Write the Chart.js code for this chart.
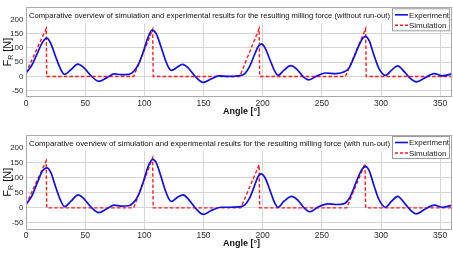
<!DOCTYPE html>
<html><head><meta charset="utf-8">
<script src="https://cdn.jsdelivr.net/npm/chart.js@4/dist/chart.umd.min.js"></script>
<style>
html,body{margin:0;padding:0;background:#fff;width:453px;height:253px;overflow:hidden}
canvas{position:absolute;left:0}
#c1{top:0}
#c2{top:125px}
</style></head><body>
<canvas id="c1" width="453" height="125"></canvas>
<canvas id="c2" width="453" height="128"></canvas>
<script>
// ---- data ----
const angleTicks = [0, 50, 100, 150, 200, 250, 300, 350];
const forceTicks = [-50, 0, 50, 100, 150, 200];

const titleTop = "Comparative overview of simulation and experimental results for the resulting milling force (without run-out)";
const titleBottom = "Comparative overview of simulation and experimental results for the resulting milling force (with run-out)";
const legendLabels = ["Experiment", "Simulation"];

const expTopAngle = [0,5,10,14,17.7,21,25,29,32.6,38,43.8,49,55,61.5,68,74.7,80,86.8,91,95,99,103,106.5,110,114,118,121,123,128,132.3,137,143,150,156,163,171,179,185,189,193,196,199,202,206,210,213,218,223.6,229,234,239,246,253,262,269,273,277,281,284,286.8,290,294,298,303.7,309,314,320,325,330,337,345,352,360];
const expTopForce = [12,40,85,120,134,115,70,28,7,24,43,30,2,-17,-5,9,6,7,18,42,85,135,162,150,105,55,28,21,33,42,30,0,-21,-10,2,0,2,10,35,75,103,114,100,60,20,4,22,38,25,0,-12,2,12,10,16,30,65,105,130,140,125,75,30,4,22,37,15,-8,-19,-5,10,2,9];

const expBotAngle = [0,5,10,14,17.7,21,25,29,32.6,38,44,49,55,61.5,68,74.7,80,86.8,91,95,99,103,107,110,114,118,121,123,128,132.8,137,143,150,156,165,172,179,185,189,193,196,198.6,202,206,210,213,218,224.5,230,235,240,247,255,262,269,273,277,281,284,286.8,290,294,298,303.7,309,314,320,325,330,337,345,352,360];
const expBotForce = [11,40,88,123,133,117,70,27,4,22,43,30,2,-16,-4,9,6,7,18,42,85,135,161,150,105,55,28,21,35,43,30,0,-22,-10,2,2,3,10,33,72,103,113,100,60,18,2,22,38,24,0,-13,3,13,11,14,30,65,105,128,138,124,75,30,2,22,38,15,-8,-20,-5,9,2,8];

const simTopAngle = [0,17.1,17.5,91,107,107.5,180.6,197,197.5,270,287,287.5,360];
const simTopForce = [12,168,0,0,164,0,0,167,0,0,167,0,0];

const simBotAngle = [0,17.1,17.5,91,107,107.5,181.5,197,197.5,271,286.5,287,360];
const simBotForce = [11,156,0,0,166,0,0,143,0,0,147,0,0];

// ---- helpers ----
const pts = (a, f) => a.map((x, i) => ({x: x, y: f[i]}));
const FONT = '"Liberation Sans", Arial, sans-serif';
const BLUE = '#1010e0', RED = '#ff1a1a';

const deco = {
  id: 'deco',
  afterDatasetsDraw(chart, args, o) {
    const {ctx, chartArea: a} = chart;
    ctx.save();
    // plot box
    ctx.strokeStyle = '#a8a8a8'; ctx.lineWidth = 1;
    ctx.strokeRect(Math.round(a.left) + 0.5, Math.round(a.top) + 0.5,
                   Math.round(a.right - a.left) - 1, Math.round(a.bottom - a.top) - 1);
    // title box
    ctx.fillStyle = '#fff';
    ctx.fillRect(a.left + 1, a.top + 1, 364, 15);
    ctx.fillStyle = '#111';
    ctx.font = '8px ' + FONT;
    ctx.textBaseline = 'middle'; ctx.textAlign = 'left';
    ctx.fillText(o.title, a.left + 3, a.top + 8.5, 361);
    // legend
    const lx = 392.5, ly = a.top + 1.5, lw = 57, lh = 22;
    ctx.fillStyle = '#fff'; ctx.fillRect(lx, ly, lw, lh);
    ctx.strokeStyle = '#9a9a9a'; ctx.strokeRect(lx, ly, lw, lh);
    ctx.lineWidth = 1.6;
    ctx.strokeStyle = BLUE; ctx.setLineDash([]);
    ctx.beginPath(); ctx.moveTo(lx + 2.5, ly + 6); ctx.lineTo(lx + 15.5, ly + 6); ctx.stroke();
    ctx.strokeStyle = RED; ctx.setLineDash([3, 2]);
    ctx.beginPath(); ctx.moveTo(lx + 2.5, ly + 16.5); ctx.lineTo(lx + 15.5, ly + 16.5); ctx.stroke();
    ctx.setLineDash([]);
    ctx.fillStyle = '#222'; ctx.font = '8px ' + FONT;
    ctx.fillText(o.legend[0], lx + 16.5, ly + 6.5, 40);
    ctx.fillText(o.legend[1], lx + 16.5, ly + 17, 40);
    // x title
    ctx.fillStyle = '#111'; ctx.font = 'bold 9px ' + FONT;
    ctx.textAlign = 'left';
    ctx.fillText('Angle [\u00B0]', 223, a.bottom + o.xTitleDy);
    // y title with subscript
    ctx.translate(6.5, (a.top + a.bottom) / 2);
    ctx.rotate(-Math.PI / 2);
    ctx.font = '11px ' + FONT;
    const wF = ctx.measureText('F').width;
    ctx.font = '7px ' + FONT;
    const wR = ctx.measureText('R').width;
    ctx.font = '11px ' + FONT;
    const wN = ctx.measureText(' [N]').width;
    let x0 = -(wF + wR + wN) / 2;
    ctx.textBaseline = 'alphabetic';
    ctx.fillStyle = '#111';
    ctx.fillText('F', x0, 4);
    ctx.font = '7px ' + FONT;
    ctx.fillText('R', x0 + wF, 6.5);
    ctx.font = '11px ' + FONT;
    ctx.fillText(' [N]', x0 + wF + wR, 4);
    ctx.restore();
  }
};

function makeChart(id, expA, expF, simA, simF, title, padTop, xAxisH, xTitleDy) {
  return new Chart(document.getElementById(id), {
    type: 'line',
    data: {
      datasets: [
        {label: legendLabels[0], data: pts(expA, expF), borderColor: BLUE, borderWidth: 1.7,
         pointRadius: 0, cubicInterpolationMode: 'monotone', fill: false},
        {label: legendLabels[1], data: pts(simA, simF), borderColor: RED, borderWidth: 1.4,
         borderDash: [3.5, 2.2], pointRadius: 0, tension: 0, fill: false}
      ]
    },
    options: {
      responsive: false, animation: false, devicePixelRatio: 1,
      layout: {padding: {top: padTop, right: 1, left: 0, bottom: 0}},
      plugins: {legend: {display: false}, tooltip: {enabled: false},
        deco: {title: title, legend: legendLabels, xTitleDy: xTitleDy}},
      scales: {
        x: {
          type: 'linear', min: 0, max: 360,
          afterBuildTicks: s => { s.ticks = angleTicks.map(v => ({value: v})); },
          afterFit: s => { s.height = xAxisH; },
          grid: {color: '#d6d6d6', lineWidth: 1, drawTicks: false},
          border: {display: false},
          ticks: {font: {size: 8.5, family: FONT}, color: '#2a2a2a', padding: 1.5, maxRotation: 0, autoSkip: false}
        },
        y: {
          type: 'linear', min: -72, max: 242,
          afterBuildTicks: s => { s.ticks = forceTicks.map(v => ({value: v})); },
          afterFit: s => { s.width = 26; },
          grid: {color: '#d6d6d6', lineWidth: 1, drawTicks: false},
          border: {display: false},
          ticks: {font: {size: 8, family: FONT}, color: '#2a2a2a', padding: 2.5}
        }
      }
    },
    plugins: [deco]
  });
}

makeChart('c1', expTopAngle, expTopForce, simTopAngle, simTopForce, titleTop, 3, 28, 14.5);
makeChart('c2', expBotAngle, expBotForce, simBotAngle, simBotForce, titleBottom, 10, 23.5, 14);
</script>
</body></html>
